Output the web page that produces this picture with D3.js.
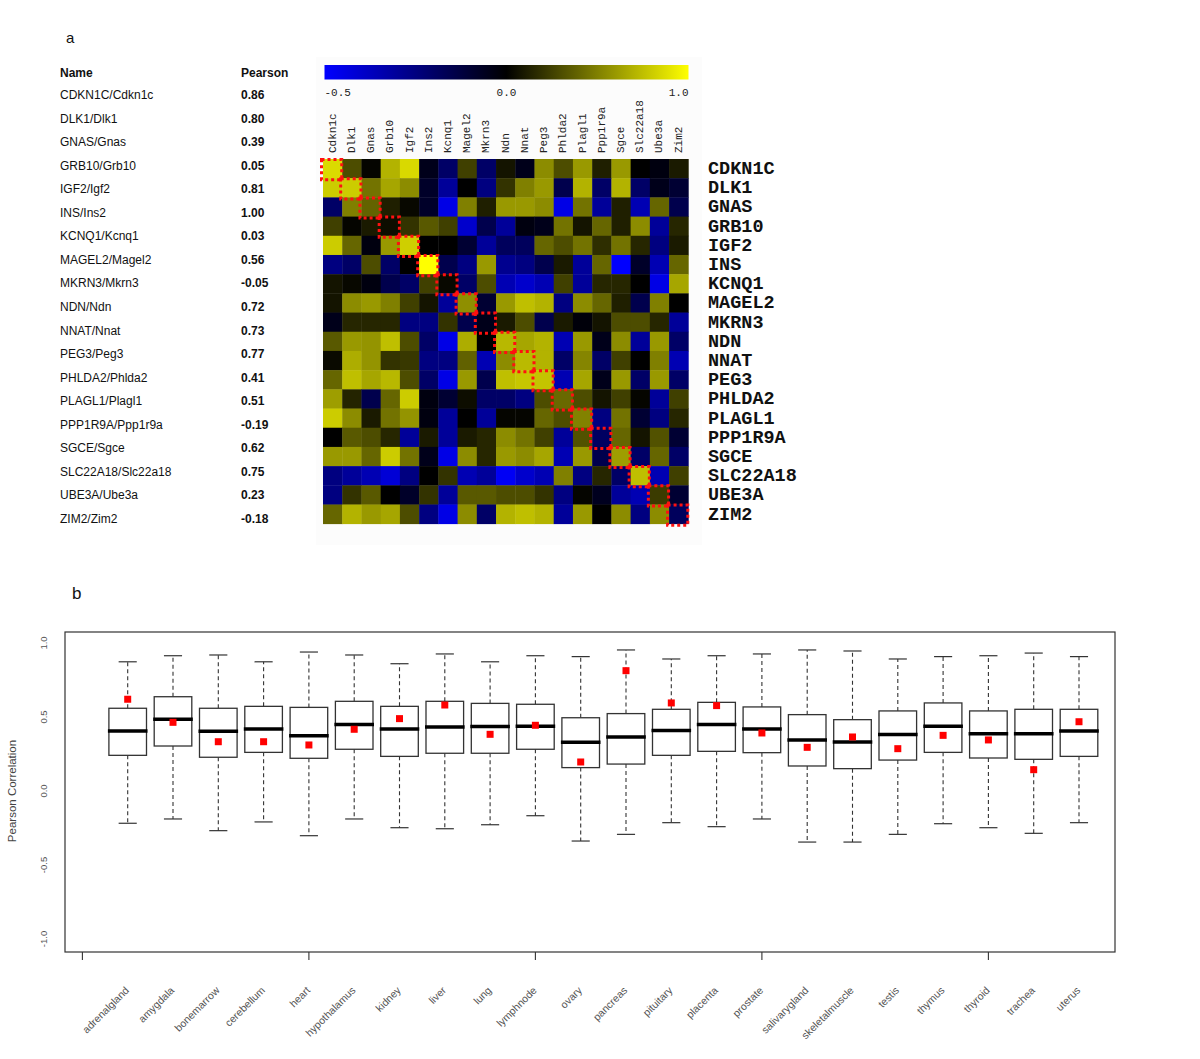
<!DOCTYPE html>
<html><head><meta charset="utf-8">
<script src="https://cdn.jsdelivr.net/npm/d3@7"></script>
<style>body{margin:0;background:#fff}</style></head>
<body>
<svg id="c" width="1200" height="1059"></svg>
<script>
// ---------- Panel a data ----------
const humanGenes = ["CDKN1C","DLK1","GNAS","GRB10","IGF2","INS","KCNQ1","MAGEL2","MKRN3","NDN","NNAT","PEG3","PHLDA2","PLAGL1","PPP1R9A","SGCE","SLC22A18","UBE3A","ZIM2"];
const mouseGenes = ["Cdkn1c","Dlk1","Gnas","Grb10","Igf2","Ins2","Kcnq1","Magel2","Mkrn3","Ndn","Nnat","Peg3","Phlda2","Plagl1","Ppp1r9a","Sgce","Slc22a18","Ube3a","Zim2"];
const pairNames = ["CDKN1C/Cdkn1c","DLK1/Dlk1","GNAS/Gnas","GRB10/Grb10","IGF2/Igf2","INS/Ins2","KCNQ1/Kcnq1","MAGEL2/Magel2","MKRN3/Mkrn3","NDN/Ndn","NNAT/Nnat","PEG3/Peg3","PHLDA2/Phlda2","PLAGL1/Plagl1","PPP1R9A/Ppp1r9a","SGCE/Sgce","SLC22A18/Slc22a18","UBE3A/Ube3a","ZIM2/Zim2"];
const pearsonLabels = ["0.86","0.80","0.39","0.05","0.81","1.00","0.03","0.56","-0.05","0.72","0.73","0.77","0.41","0.51","-0.19","0.62","0.75","0.23","-0.18"];
const colorbarTicks = [-0.5, 0.0, 1.0];
// rows = human genes, columns = mouse genes
const corrMatrix = [
 [0.86,0.30,0.02,0.70,0.85,-0.05,-0.20,0.25,-0.20,0.08,-0.05,0.55,0.30,0.60,0.12,0.60,0.00,-0.03,0.10],
 [0.80,0.80,0.45,0.65,0.55,-0.08,-0.30,0.00,-0.25,0.20,0.50,0.60,-0.15,0.70,-0.20,0.70,-0.20,-0.05,-0.10],
 [-0.20,0.50,0.39,0.12,0.03,-0.08,-0.45,0.50,0.12,0.60,0.60,0.55,-0.45,0.45,-0.30,0.12,-0.35,0.40,-0.15],
 [0.25,0.02,0.10,0.05,0.20,0.35,0.25,-0.40,-0.15,-0.30,-0.03,-0.05,0.45,0.08,0.40,0.12,0.55,-0.30,0.15],
 [0.80,0.40,-0.03,0.60,0.81,0.00,0.00,-0.10,-0.30,-0.18,-0.18,0.40,0.30,0.45,0.18,0.45,0.15,-0.25,0.10],
 [-0.25,-0.20,0.30,-0.20,0.00,1.00,-0.15,-0.25,0.60,-0.28,-0.25,-0.15,0.10,-0.30,0.40,-0.50,-0.08,-0.35,0.40],
 [0.08,0.03,-0.03,-0.15,-0.20,0.25,0.03,-0.20,0.30,-0.35,-0.40,-0.35,0.25,-0.30,0.15,0.15,0.00,-0.45,0.65],
 [0.08,0.55,0.60,0.50,0.25,0.08,-0.30,0.56,-0.10,0.60,0.75,0.70,-0.25,0.55,0.40,0.12,-0.15,0.50,0.00],
 [-0.05,0.15,0.15,0.15,-0.25,-0.25,0.20,-0.15,-0.05,0.10,0.30,-0.15,0.10,-0.02,0.08,0.30,0.30,0.15,-0.30],
 [0.35,0.60,0.58,0.75,0.30,-0.20,-0.45,0.68,0.00,0.72,0.65,0.70,-0.35,0.60,-0.05,0.55,-0.30,0.60,-0.20],
 [0.04,0.68,0.58,0.20,0.22,-0.25,-0.25,0.38,-0.35,0.55,0.73,0.70,-0.20,0.52,-0.20,0.25,0.00,0.50,-0.35],
 [0.40,0.75,0.65,0.72,0.30,-0.20,-0.45,0.60,-0.15,0.75,0.78,0.77,-0.35,0.65,-0.05,0.60,-0.20,0.60,-0.20],
 [0.62,0.14,-0.15,0.40,0.80,-0.03,-0.10,0.05,-0.20,-0.20,-0.25,0.30,0.41,0.30,0.08,0.25,0.02,-0.30,0.25],
 [0.80,0.55,0.10,0.45,0.58,-0.03,-0.30,0.00,-0.30,0.02,0.02,0.40,0.30,0.51,-0.25,0.45,-0.10,-0.25,0.15],
 [0.00,0.35,0.30,0.15,-0.30,0.10,-0.30,0.10,0.15,0.55,0.45,0.25,-0.30,0.32,-0.19,0.40,0.08,0.32,-0.10],
 [0.60,0.60,0.40,0.80,0.45,-0.05,-0.45,0.55,0.15,0.60,0.55,0.65,-0.35,0.60,-0.15,0.62,-0.20,0.40,-0.20],
 [-0.25,-0.30,-0.35,-0.42,-0.25,0.00,0.20,-0.35,-0.30,-0.48,-0.40,-0.35,0.50,-0.25,0.15,-0.20,0.75,-0.35,0.25],
 [-0.25,0.20,0.35,0.00,-0.08,0.20,-0.30,0.35,0.35,0.30,0.30,0.20,-0.25,0.02,-0.06,-0.30,-0.35,0.23,-0.10],
 [0.40,0.70,0.60,0.65,0.30,-0.25,-0.45,0.55,-0.20,0.70,0.75,0.70,-0.30,0.60,0.00,0.55,-0.25,0.55,-0.18]
];

// ---------- Panel b data ----------
const tissues = ["adrenalgland","amygdala","bonemarrow","cerebellum","heart","hypothalamus","kidney","liver","lung","lymphnode","ovary","pancreas","pituitary","placenta","prostate","salivarygland","skeletalmuscle","testis","thymus","thyroid","trachea","uterus"];
const whiskerHigh = [0.873,0.914,0.919,0.873,0.939,0.919,0.860,0.926,0.873,0.914,0.908,0.953,0.892,0.914,0.926,0.953,0.946,0.892,0.908,0.914,0.932,0.908];
const q3 =          [0.559,0.637,0.559,0.572,0.565,0.606,0.572,0.606,0.592,0.586,0.495,0.523,0.552,0.599,0.568,0.516,0.482,0.541,0.595,0.541,0.552,0.552];
const medians =     [0.405,0.484,0.403,0.419,0.374,0.450,0.419,0.432,0.435,0.437,0.329,0.365,0.408,0.450,0.419,0.345,0.331,0.381,0.437,0.387,0.387,0.405];
const q1 =          [0.241,0.304,0.228,0.261,0.221,0.282,0.234,0.255,0.255,0.282,0.158,0.182,0.241,0.268,0.259,0.169,0.151,0.209,0.261,0.223,0.214,0.234];
const whiskerLow =  [-0.218,-0.189,-0.268,-0.209,-0.302,-0.189,-0.248,-0.255,-0.228,-0.167,-0.338,-0.293,-0.214,-0.241,-0.189,-0.345,-0.345,-0.293,-0.221,-0.248,-0.286,-0.214];
const redPoints =   [0.620,0.464,0.333,0.333,0.311,0.417,0.489,0.581,0.383,0.444,0.196,0.813,0.595,0.577,0.392,0.295,0.365,0.286,0.376,0.345,0.144,0.468];
const yTicks = [-1.0,-0.5,0.0,0.5,1.0];
const xTicks = [0,5,10,15,20];

const svg = d3.select("#c");
const sans = "'Liberation Sans', Arial, sans-serif";
const mono = "'Liberation Mono', 'Courier New', monospace";

// panel letters
svg.append("text").attr("x",66).attr("y",43).text("a").style("font-family",sans).style("font-size","15px").attr("fill","#111");
svg.append("text").attr("x",72).attr("y",599).text("b").style("font-family",sans).style("font-size","17px").attr("fill","#111");

// ---- table ----
const ty = d3.scalePoint().domain(pairNames).range([95,519]);
const tfont = (s)=>s.style("font-family",sans).style("font-size","12px").attr("fill","#111").attr("dominant-baseline","central");
tfont(svg.append("text").attr("x",60).attr("y",72.5).text("Name").style("font-weight","bold"));
tfont(svg.append("text").attr("x",241).attr("y",72.5).text("Pearson").style("font-weight","bold"));
pairNames.forEach((n,i)=>{
  tfont(svg.append("text").attr("x",60).attr("y",ty(n)).text(n));
  tfont(svg.append("text").attr("x",241).attr("y",ty(n)).text(pearsonLabels[i]).style("font-weight","bold"));
});

// ---- heatmap ----
svg.append("rect").attr("x",316).attr("y",57).attr("width",386).attr("height",488).attr("fill","#fcfcfc");
const color = d3.scaleLinear().domain([-0.5,0,1]).range(["#0000ff","#000000","#ffff00"]).clamp(true);
const hx = d3.scaleBand().domain(d3.range(19)).range([323,688.3]);
const hy = d3.scaleBand().domain(d3.range(19)).range([159,523.7]);
const bw = hx.bandwidth(), bh = hy.bandwidth();
const cells = [];
corrMatrix.forEach((row,r)=>row.forEach((v,c)=>cells.push({r,c,v})));
svg.append("g").selectAll("rect").data(cells).join("rect")
  .attr("x",d=>hx(d.c)).attr("y",d=>hy(d.r))
  .attr("width",bw+0.4).attr("height",bh+0.4)
  .attr("fill",d=>color(d.v));
// diagonal dotted squares
svg.append("g").selectAll("rect").data(d3.range(19)).join("rect")
  .attr("x",i=>hx(i)-1.5).attr("y",i=>hy(i)+0.5)
  .attr("width",bw+1).attr("height",bh+1)
  .attr("fill","none").attr("stroke","#ff1010").attr("stroke-width",3).attr("stroke-dasharray","3,3");
// row labels (right)
svg.append("g").selectAll("text").data(humanGenes).join("text")
  .attr("x",708).attr("y",(d,i)=>hy(i)+bh/2+1).attr("dominant-baseline","central")
  .text(d=>d).style("font-family",mono).style("font-size","18.5px").style("font-weight","bold").attr("fill","#111");
// column labels (top, rotated)
svg.append("g").selectAll("text").data(mouseGenes).join("text")
  .attr("transform",(d,i)=>`translate(${hx(i)+bw/2},153) rotate(-90)`)
  .attr("dominant-baseline","central").attr("text-anchor","start")
  .text(d=>d).style("font-family",mono).style("font-size","11px").attr("fill","#222");
// colorbar
const cb = d3.scaleLinear().domain([-0.5,0,1]).range([324.5,506.5,688.5]);
const grad = svg.append("defs").append("linearGradient").attr("id","cbg").attr("x1","0%").attr("x2","100%");
d3.range(0,1.0001,0.05).forEach(t=>{
  const v = cb.invert(324.5 + t*(688.5-324.5));
  grad.append("stop").attr("offset",(t*100)+"%").attr("stop-color",color(v));
});
svg.append("rect").attr("x",324.5).attr("y",65).attr("width",364).attr("height",14.5).attr("fill","url(#cbg)");
svg.append("g").selectAll("text").data(colorbarTicks).join("text")
  .attr("x",d=>cb(d)).attr("y",93).attr("dominant-baseline","central")
  .attr("text-anchor",(d,i)=>i===0?"start":(i===colorbarTicks.length-1?"end":"middle"))
  .text(d=>d.toFixed(1)).style("font-family",mono).style("font-size","11px").attr("fill","#222");

// ---- boxplot ----
const bx = d3.scaleLinear().domain([1,22]).range([127.7,1079]);
const by = d3.scaleLinear().domain([-1,1]).range([939,643]);
svg.append("rect").attr("x",65).attr("y",632).attr("width",1050).attr("height",320)
  .attr("fill","none").attr("stroke","#333").attr("stroke-width",1.2);
// y tick labels
svg.append("g").selectAll("text").data(yTicks).join("text")
  .attr("transform",d=>`translate(43,${by(d)}) rotate(-90)`)
  .attr("text-anchor","middle").attr("dominant-baseline","central")
  .text(d=>d.toFixed(1)).style("font-family",sans).style("font-size","9.5px").attr("fill","#555");
svg.append("text").attr("transform",`translate(12,${by(0)}) rotate(-90)`)
  .attr("text-anchor","middle").attr("dominant-baseline","central")
  .text("Pearson Correlation").style("font-family",sans).style("font-size","11.5px").attr("fill","#444");
// x ticks
svg.append("g").selectAll("line").data(xTicks).join("line")
  .attr("x1",d=>bx(d)).attr("x2",d=>bx(d)).attr("y1",952).attr("y2",960)
  .attr("stroke","#333").attr("stroke-width",1.1);
svg.append("g").selectAll("text").data(tissues).join("text")
  .attr("transform",(d,i)=>`translate(${bx(i+1)+2},991) rotate(-45)`)
  .attr("text-anchor","end")
  .text(d=>d).style("font-family",sans).style("font-size","10.5px").attr("fill","#555");

const g = svg.append("g");
tissues.forEach((t,i)=>{
  const p = i+1, cx = bx(p);
  const x0 = bx(p-0.415), x1 = bx(p+0.415);
  const c0 = bx(p-0.2), c1 = bx(p+0.2);
  g.append("line").attr("x1",cx).attr("x2",cx).attr("y1",by(q3[i])).attr("y2",by(whiskerHigh[i]))
    .attr("stroke","#333").attr("stroke-width",1.1).attr("stroke-dasharray","4,3");
  g.append("line").attr("x1",cx).attr("x2",cx).attr("y1",by(q1[i])).attr("y2",by(whiskerLow[i]))
    .attr("stroke","#333").attr("stroke-width",1.1).attr("stroke-dasharray","4,3");
  g.append("line").attr("x1",c0).attr("x2",c1).attr("y1",by(whiskerHigh[i])).attr("y2",by(whiskerHigh[i]))
    .attr("stroke","#333").attr("stroke-width",1.2);
  g.append("line").attr("x1",c0).attr("x2",c1).attr("y1",by(whiskerLow[i])).attr("y2",by(whiskerLow[i]))
    .attr("stroke","#333").attr("stroke-width",1.2);
  g.append("rect").attr("x",x0).attr("y",by(q3[i])).attr("width",x1-x0).attr("height",by(q1[i])-by(q3[i]))
    .attr("fill","#fff").attr("stroke","#333").attr("stroke-width",1.3);
  g.append("line").attr("x1",x0-1).attr("x2",x1+1).attr("y1",by(medians[i])).attr("y2",by(medians[i]))
    .attr("stroke","#000").attr("stroke-width",3.5);
  g.append("rect").attr("x",cx-3.5).attr("y",by(redPoints[i])-3.5).attr("width",7).attr("height",7).attr("fill","#f00");
});
</script>
</body></html>
